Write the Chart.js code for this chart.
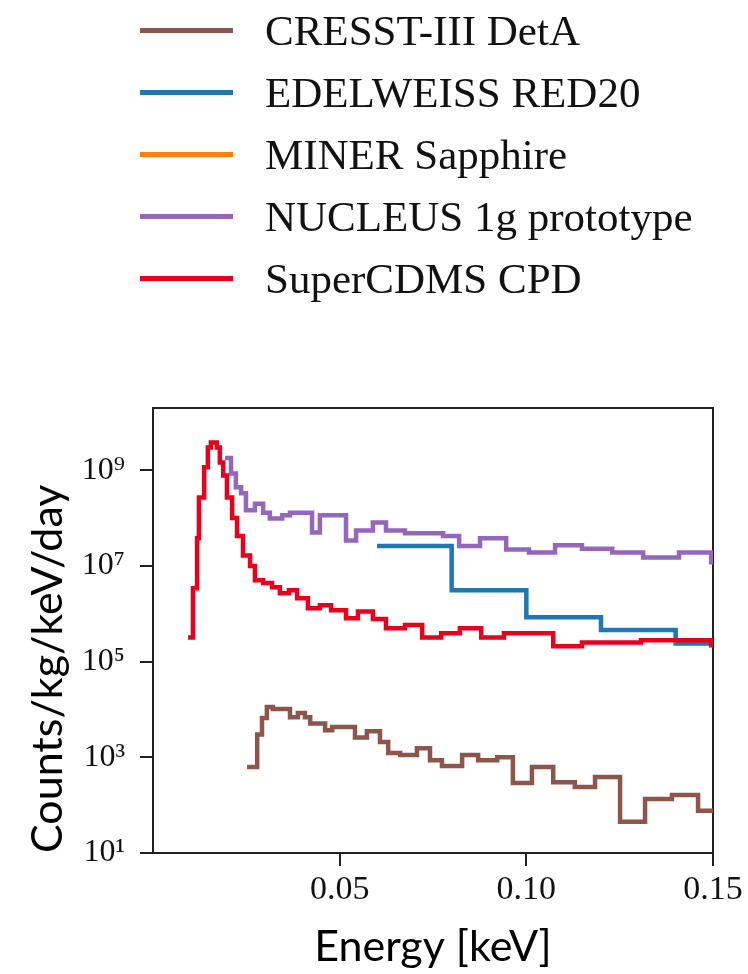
<!DOCTYPE html>
<html>
<head>
<meta charset="utf-8">
<title>Low-energy excess spectra</title>
<script src="https://cdn.jsdelivr.net/npm/chart.js@4"></script>
<style>
  html, body { margin: 0; padding: 0; background: #fff; }
  #wrap { position: relative; width: 748px; height: 974px; }
  #myChart { position: absolute; left: 0; top: 0; }
  #legend { position: absolute; left: 0; top: 0; width: 748px; }
  .row { position: absolute; left: 140px; height: 50px; display: flex; align-items: center;
         font-family: 'Liberation Serif', 'Times New Roman', serif; font-size: 43px;
         color: #111; white-space: nowrap; }
  .swatch { width: 93px; height: 5px; margin-right: 32px; }
</style>
</head>
<body>
<div id="wrap">
  <canvas id="myChart" width="748" height="974"></canvas>
  <div id="legend"></div>
</div>
<script>
// series names + colours (legend order)
const seriesNames = ['CRESST-III DetA', 'EDELWEISS RED20', 'MINER Sapphire', 'NUCLEUS 1g prototype', 'SuperCDMS CPD'];
const seriesColors = ['#8c564b', '#1f77b4', '#ff7f0e', '#9467bd', '#e8001c'];

// histogram bin edges [keV] and counts [counts/kg/keV/day]
const cresstEdges = [0.0252, 0.0279, 0.0292, 0.0305, 0.0321, 0.0367, 0.0388, 0.0407, 0.0421, 0.0461, 0.0480,
  0.0541, 0.0573, 0.0608, 0.0630, 0.0662, 0.0707, 0.0742, 0.0774, 0.0828, 0.0871, 0.0922, 0.0964, 0.1015,
  0.1072, 0.1130, 0.1184, 0.1251, 0.1318, 0.1390, 0.1460, 0.150];
const cresstCounts = [630, 3000, 6600, 11200, 10200, 6900, 8400, 6900, 5100, 3700, 4300, 2600, 3500, 2100,
  1230, 1120, 1550, 870, 660, 1120, 870, 1000, 290, 630, 300, 240, 390, 45, 135, 163, 76];

const edelweissEdges = [0.06, 0.08, 0.10, 0.12, 0.14, 0.15];
const edelweissCounts = [2.6e7, 3.1e6, 8.5e5, 4.6e5, 2.4e5];

const minerEdges = [];
const minerCounts = [];

const nucleusEdges = [0.0193, 0.0209, 0.0222, 0.0236, 0.0249, 0.0273, 0.0295, 0.0313, 0.0346, 0.0367, 0.0426,
  0.0447, 0.0517, 0.0544, 0.0589, 0.0624, 0.0675, 0.0777, 0.0820, 0.0876, 0.0946, 0.1007, 0.1077, 0.1149,
  0.1230, 0.1313, 0.1409, 0.1495, 0.150];
const nucleusCounts = [1.8e9, 8.5e8, 4.4e8, 3.3e8, 1.45e8, 2.0e8, 1.3e8, 9.8e7, 1.14e8, 1.3e8, 5.0e7, 1.14e8,
  3.4e7, 5.5e7, 8.1e7, 5.5e7, 4.8e7, 4.2e7, 2.6e7, 3.8e7, 2.2e7, 1.9e7, 2.7e7, 2.3e7, 1.9e7, 1.5e7, 1.9e7, 1.2e7];

const cdmsEdges = [0.0094, 0.0107, 0.0118, 0.0123, 0.0137, 0.0147, 0.0155, 0.0171, 0.0179, 0.0188, 0.0198,
  0.0212, 0.0225, 0.0241, 0.0260, 0.0273, 0.0295, 0.0319, 0.0340, 0.0364, 0.0386, 0.0415, 0.0447, 0.0477,
  0.0517, 0.0549, 0.0589, 0.0624, 0.0675, 0.0721, 0.0772, 0.0822, 0.0879, 0.0940, 0.1072, 0.1149, 0.1307,
  0.1495, 0.150];
const cdmsCounts = [3.2e5, 3.4e6, 3.8e7, 2.7e8, 1.15e9, 3.0e9, 3.8e9, 3.0e9, 1.45e9, 7.8e8, 2.7e8, 1.0e8,
  4.2e7, 1.66e7, 1.0e7, 5.0e6, 4.4e6, 3.6e6, 2.7e6, 3.1e6, 2.1e6, 1.3e6, 1.5e6, 1.18e6, 8.1e5, 1.12e6, 7.8e5,
  5.0e5, 5.8e5, 3.2e5, 3.9e5, 5.0e5, 3.2e5, 3.9e5, 2.1e5, 2.5e5, 2.8e5, 2.2e5];

const xTicks = [0.05, 0.10, 0.15];
const xTickLabels = ['0.05', '0.10', '0.15'];
const yTicks = [1e1, 1e3, 1e5, 1e7, 1e9];
const yTickLabels = ['10¹', '10³', '10⁵', '10⁷', '10⁹'];

const allEdges = [cresstEdges, edelweissEdges, minerEdges, nucleusEdges, cdmsEdges];
const allCounts = [cresstCounts, edelweissCounts, minerCounts, nucleusCounts, cdmsCounts];

// one point per bin start, plus the closing edge, drawn as steps
function histPoints(edges, counts) {
  const pts = counts.map((c, i) => ({ x: edges[i], y: c }));
  if (counts.length) pts.push({ x: edges[edges.length - 1], y: counts[counts.length - 1] });
  return pts;
}

const serif = 'Liberation Serif';
const sans = 'Lato';

// box round the plot
const frame = {
  id: 'frame',
  beforeDatasetsDraw(chart) {
    const { ctx, chartArea: a } = chart;
    ctx.save();
    ctx.strokeStyle = '#222';
    ctx.lineWidth = 2;
    ctx.strokeRect(a.left, a.top, a.right - a.left, a.bottom - a.top);
    ctx.restore();
  }
};

// legend as html above the plot
const htmlLegend = {
  id: 'htmlLegend',
  afterUpdate(chart) {
    const box = document.getElementById('legend');
    box.innerHTML = '';
    const items = chart.options.plugins.legend.labels.generateLabels(chart)
      .sort((a, b) => a.datasetIndex - b.datasetIndex);
    items.forEach((item, i) => {
      const row = document.createElement('div');
      row.className = 'row';
      row.style.top = (5 + i * 62) + 'px';
      const sw = document.createElement('span');
      sw.className = 'swatch';
      sw.style.background = item.strokeStyle;
      const txt = document.createElement('span');
      txt.textContent = item.text;
      row.appendChild(sw);
      row.appendChild(txt);
      box.appendChild(row);
    });
  }
};

const ctx = document.getElementById('myChart').getContext('2d');
const myChart = new Chart(ctx, {
  type: 'line',
  data: {
    datasets: seriesNames.map((name, i) => ({
      label: name,
      data: histPoints(allEdges[i], allCounts[i]),
      borderColor: seriesColors[i],
      backgroundColor: seriesColors[i],
      borderWidth: 4.5,
      pointRadius: 0,
      stepped: true,
      fill: false,
      borderJoinStyle: 'miter',
      order: seriesNames.length - i
    }))
  },
  options: {
    responsive: false,
    animation: false,
    devicePixelRatio: 1,
    layout: { padding: { top: 408, right: 35, bottom: 0, left: 0 } },
    plugins: {
      legend: { display: false },
      tooltip: { enabled: false }
    },
    scales: {
      x: {
        type: 'linear',
        min: 0,
        max: 0.15,
        afterBuildTicks: s => { s.ticks = xTicks.map(v => ({ value: v })); },
        afterFit: s => { s.height = 121; },
        ticks: {
          autoSkip: false,
          maxRotation: 0,
          padding: 4,
          color: '#111',
          font: { family: serif, size: 34 },
          callback: (v, i) => xTickLabels[i]
        },
        grid: { drawOnChartArea: false, tickLength: 13, color: '#222', lineWidth: 2 },
        border: { display: false },
        title: {
          display: true,
          text: 'Energy [keV]',
          color: '#000',
          font: { family: sans, size: 43 },
          padding: { top: 0, bottom: 1 }
        }
      },
      y: {
        type: 'logarithmic',
        min: 10,
        max: 2e10,
        afterBuildTicks: s => { s.ticks = yTicks.map(v => ({ value: v })); },
        afterFit: s => { s.width = 153; },
        ticks: {
          autoSkip: false,
          padding: 15,
          color: '#111',
          font: { family: serif, size: 32 },
          callback: (v, i) => yTickLabels[i]
        },
        grid: { drawOnChartArea: false, tickLength: 13, color: '#222', lineWidth: 2 },
        border: { display: false },
        title: {
          display: true,
          text: 'Counts/kg/keV/day',
          align: 'start',
          color: '#000',
          font: { family: sans, size: 43 },
          padding: { top: 22, bottom: 0 }
        }
      }
    }
  },
  plugins: [frame, htmlLegend]
});
</script>
</body>
</html>
